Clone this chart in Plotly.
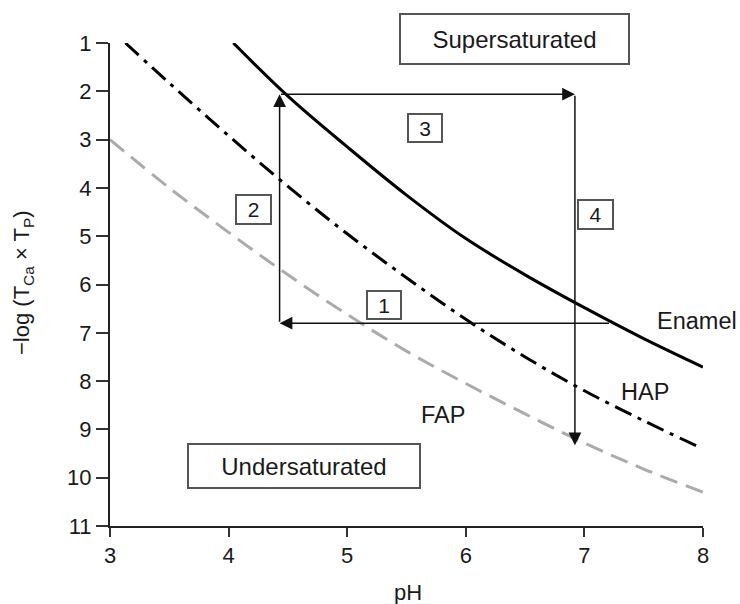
import plotly.graph_objects as go

# ---- data ----
enamel_ph = [4.04, 4.5, 5.0, 5.5, 6.0, 6.5, 7.0, 7.5, 8.0]
enamel_val = [1.0, 2.1, 3.15, 4.15, 5.05, 5.8, 6.48, 7.12, 7.71]

hap_ph = [3.13, 3.5, 4.0, 4.5, 5.0, 5.5, 6.0, 6.5, 7.0, 7.5, 7.97]
hap_val = [1.0, 1.83, 2.92, 3.97, 4.95, 5.86, 6.72, 7.5, 8.2, 8.82, 9.37]

fap_ph = [3.0, 3.5, 4.0, 4.5, 5.0, 5.5, 6.0, 6.5, 7.0, 7.5, 8.0]
fap_val = [3.0, 4.0, 4.92, 5.8, 6.62, 7.38, 8.05, 8.68, 9.28, 9.82, 10.3]

# caries cycle path (arrows 1 -> 4)
cycle_ph = [7.22, 4.43, 4.43, 6.92, 6.92]
cycle_val = [6.8, 6.8, 2.06, 2.06, 9.33]

x_ticks = [3, 4, 5, 6, 7, 8]
y_ticks = [1, 2, 3, 4, 5, 6, 7, 8, 9, 10, 11]

FONT = "Liberation Sans, Arial, sans-serif"
TXT = "#1a1a1a"

# plot area in pixels (for paper-coordinate placements)
PL, PR, PT, PB = 110, 703, 43, 526
def px(xp):
    return (xp - PL) / (PR - PL)
def py(yp):
    return (PB - yp) / (PB - PT)

fig = go.Figure()
fig.add_trace(go.Scatter(x=fap_ph, y=fap_val, mode="lines", line_shape="spline",
                         line=dict(color="#ababab", width=3, dash="18px,9px"),
                         cliponaxis=False, showlegend=False, hoverinfo="skip"))
fig.add_trace(go.Scatter(x=hap_ph, y=hap_val, mode="lines", line_shape="spline",
                         line=dict(color="#000000", width=3, dash="18px,7px,4px,7px"),
                         cliponaxis=False, showlegend=False, hoverinfo="skip"))
fig.add_trace(go.Scatter(x=enamel_ph, y=enamel_val, mode="lines", line_shape="spline",
                         line=dict(color="#000000", width=3),
                         cliponaxis=False, showlegend=False, hoverinfo="skip"))

ann = []
# arrows of the cycle
for i in range(len(cycle_ph) - 1):
    ann.append(dict(x=cycle_ph[i + 1], y=cycle_val[i + 1], ax=cycle_ph[i], ay=cycle_val[i],
                    xref="x", yref="y", axref="x", ayref="y", text="", showarrow=True,
                    arrowhead=2, arrowsize=1.7, arrowwidth=1.5, arrowcolor="#111111",
                    standoff=0, startstandoff=0))

def box(x, y, text, w, h, size, xref="x", yref="y"):
    return dict(x=x, y=y, xref=xref, yref=yref, text=text, showarrow=False,
                width=w, height=h, bordercolor="#555555", borderwidth=2, borderpad=0,
                bgcolor="white", font=dict(family=FONT, size=size, color=TXT),
                xanchor="center", yanchor="middle", align="center", valign="middle")

ann.append(box(px(514.5), py(39), "Supersaturated", 227, 48, 24, "paper", "paper"))
ann.append(box(4.636, 9.758, "Undersaturated", 230, 42, 24))
ann.append(box(5.31, 6.424, "1", 32, 26, 21))
ann.append(box(4.21, 4.447, "2", 33, 27, 21))
ann.append(box(5.656, 2.76, "3", 32, 26, 21))
ann.append(box(7.094, 4.551, "4", 33, 27, 21))

def label(x, y, text):
    return dict(x=x, y=y, xref="x", yref="y", text=text, showarrow=False,
                font=dict(family=FONT, size=23.5, color=TXT), xanchor="center", yanchor="middle")

ann.append(label(7.949, 6.756, "Enamel"))
ann.append(label(7.511, 8.226, "HAP"))
ann.append(label(5.808, 8.702, "FAP"))

# axis titles
ann.append(dict(x=px(23), y=py(283), xref="paper", yref="paper",
                text="\u2212log (T<sub>Ca</sub> \u00d7 T<sub>P</sub>)", textangle=-90, showarrow=False,
                font=dict(family=FONT, size=22, color=TXT), xanchor="center", yanchor="middle"))
ann.append(dict(x=px(408), y=py(592), xref="paper", yref="paper",
                text="pH", showarrow=False,
                font=dict(family=FONT, size=22, color=TXT), xanchor="center", yanchor="middle"))

fig.update_layout(
    width=740, height=604,
    margin=dict(l=PL, r=740 - PR, t=PT, b=604 - PB),
    paper_bgcolor="white", plot_bgcolor="white",
    annotations=ann,
    xaxis=dict(range=[3, 8], tickvals=x_ticks, ticktext=[str(v) for v in x_ticks],
               showgrid=False, zeroline=False, showline=True, linecolor="#222222", linewidth=2,
               ticks="outside", ticklen=9, tickwidth=2, tickcolor="#333333",
               tickfont=dict(family=FONT, size=22, color=TXT)),
    yaxis=dict(range=[11, 1], tickvals=y_ticks, ticktext=[str(v) for v in y_ticks],
               showgrid=False, zeroline=False, showline=True, linecolor="#222222", linewidth=2,
               ticks="outside", ticklen=12, tickwidth=2, tickcolor="#333333",
               tickfont=dict(family=FONT, size=22, color=TXT)),
)

fig.write_html("out.html")
